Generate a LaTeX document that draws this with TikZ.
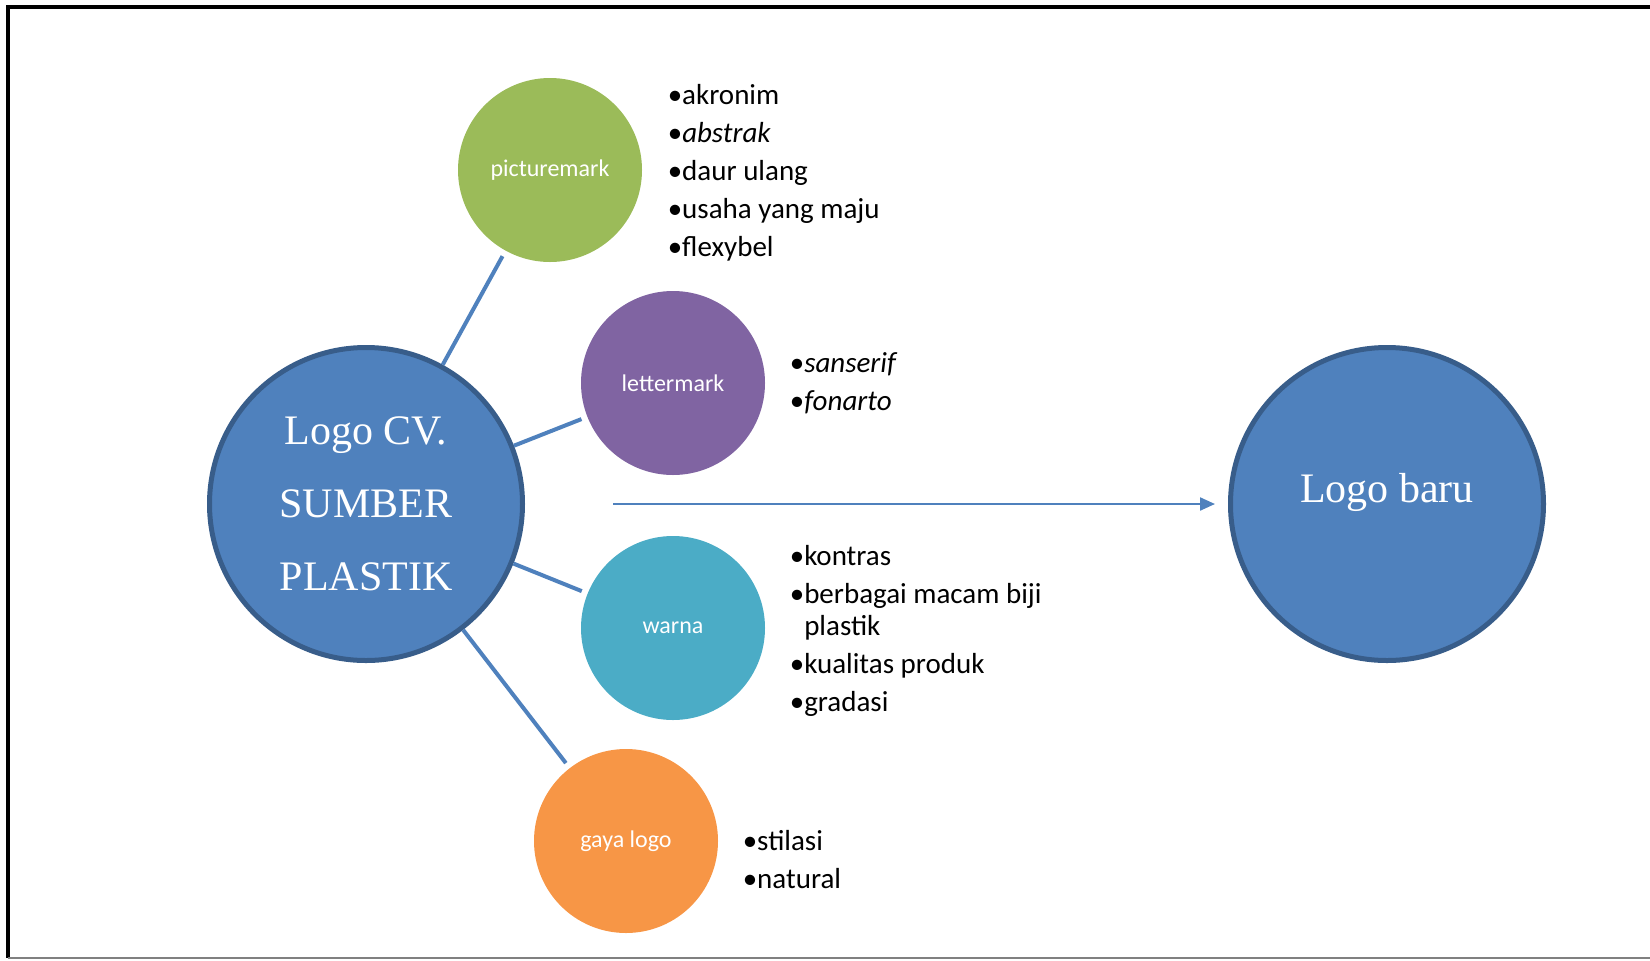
\documentclass[tikz,border=0pt]{standalone}
\usepackage{fontspec}
\setmainfont{Carlito}
\newfontfamily\logoserif{Liberation Serif}
\usetikzlibrary{positioning,arrows.meta}
\definecolor{logoblue}{HTML}{4F81BD}
\definecolor{logoedge}{HTML}{385D8A}
\definecolor{pmgreen}{HTML}{9BBB59}
\definecolor{lmpurple}{HTML}{8064A2}
\definecolor{wrteal}{HTML}{4BACC6}
\definecolor{glorange}{HTML}{F79646}

\begin{document}
\begin{tikzpicture}[x=0.5pt,y=-0.5pt,
				bigcircle/.style={circle,fill=logoblue,draw=logoedge,line width=2.5pt,minimum size=156.5pt,inner sep=0pt,
					text=white,align=center,font=\logoserif\fontsize{21}{36.5}\selectfont},
				subcircle/.style={circle,minimum size=92pt,inner sep=0pt,text=white,font=\fontsize{12}{14}\selectfont},
				bullets/.style={align=left,inner sep=0pt,font=\fontsize{14.5}{19}\selectfont},
				conn/.style={draw=logoblue,line width=2pt,shorten >=3pt}]
				\useasboundingbox (0,0) rectangle (1650,960);
				% frame
				\draw[line width=2pt] (1650,6.5) -- (8,6.5) -- (8,958);
				\draw[gray,line width=0.6pt] (8,958) -- (1650,958);

				\node (LOGO) [bigcircle] at (366,504)  {Logo CV.\\SUMBER\\PLASTIK};
				\node (BARU) [bigcircle] at (1387,504) {\raisebox{16pt}{Logo baru}};
				\node (PM)   [subcircle,fill=pmgreen]  at (550,170) {picturemark};
				\node (LM)   [subcircle,fill=lmpurple] at (673,383) {lettermark};
				\node (WR)   [subcircle,fill=wrteal]   at (673,628) {warna};
				\node (GL)   [subcircle,fill=glorange] at (626,841) {gaya logo};

				\node (PMLIST) [bullets,right=12.5pt of PM,yshift=-1.5pt] {•akronim\\•\textit{abstrak}\\•daur ulang\\•usaha yang maju\\•flexybel};
				\node (LMLIST) [bullets,right=12pt of LM]   {•\textit{sanserif}\\•\textit{fonarto}};
				\node (WRLIST) [bullets,right=12pt of WR,yshift=-1.5pt] {•kontras\\•berbagai macam biji\\[-3pt]\hphantom{•}plastik\\•kualitas produk\\•gradasi};
				\node (GLLIST) [bullets,anchor=base west] at ([xshift=12pt,yshift=-23.5pt]GL.east) {•stilasi\\•natural};

				\draw[conn] (LOGO) -- (PM);
				\draw[conn] (LOGO) -- (LM);
				\draw[conn] (LOGO) -- (WR);
				\draw[conn] (LOGO) -- (GL);
				\draw[draw=logoblue,line width=1.1pt,shorten <=44pt,shorten >=6.5pt,-{Triangle[length=7.5pt,width=6.5pt]}] (LOGO) -- (BARU);
			\end{tikzpicture}
\end{document}
